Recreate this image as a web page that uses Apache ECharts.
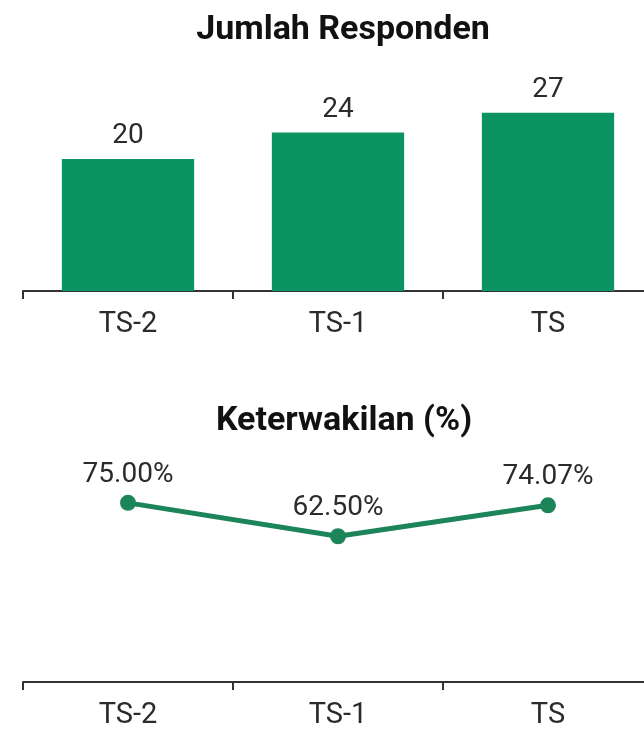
<!DOCTYPE html>
<html>
<head>
<meta charset="utf-8">
<script src="https://cdn.jsdelivr.net/npm/echarts@6/dist/echarts.min.js"></script>
<style>
  html, body { margin: 0; padding: 0; background: #fff; }
  #chart { width: 644px; height: 730px; }
</style>
</head>
<body>
<div id="chart"></div>
<script>
// data
const categories = ['TS-2', 'TS-1', 'TS']
const responden = [20, 24, 27]
const keterwakilan = [75.0, 62.5, 74.07]

const textColor = '#2b2b2b'
const fontFamily = 'Roboto, "Noto Sans", sans-serif'

const xAxisBase = {
  type: 'category',
  data: categories,
  axisLine: { lineStyle: { color: '#333', width: 2 } },
  axisTick: { show: true, length: 8, lineStyle: { color: '#333', width: 2 } },
  axisLabel: { color: textColor, fontSize: 29, fontFamily: fontFamily, margin: 19 }
}

const chart = echarts.init(document.getElementById('chart'))
const option = {
  backgroundColor: '#fff',
  animation: false,
  title: [
    {
      text: 'Jumlah Responden',
      left: 338, top: 8, textAlign: 'center',
      textStyle: { fontSize: 34, fontWeight: 'bold', color: '#111', fontFamily: fontFamily }
    },
    {
      text: 'Keterwakilan (%)',
      left: 339, top: 399, textAlign: 'center',
      textStyle: { fontSize: 34, fontWeight: 'bold', color: '#111', fontFamily: fontFamily }
    }
  ],
  grid: [
    { left: 23, width: 630, top: 93, height: 198, outerBoundsMode: 'none' },
    { left: 23, width: 630, top: 436, height: 246, outerBoundsMode: 'none' }
  ],
  xAxis: [
    Object.assign({ gridIndex: 0 }, xAxisBase),
    Object.assign({ gridIndex: 1 }, xAxisBase)
  ],
  yAxis: [
    { gridIndex: 0, type: 'value', min: 0, max: 30, show: false },
    { gridIndex: 1, type: 'value', min: 8, max: 100, show: false }
  ],
  series: [
    {
      name: 'Jumlah Responden',
      type: 'bar',
      xAxisIndex: 0,
      yAxisIndex: 0,
      data: responden,
      barWidth: '63%',
      itemStyle: { color: '#0b9461' },
      label: {
        show: true, position: 'top', distance: 9,
        color: textColor, fontSize: 28, fontFamily: fontFamily
      }
    },
    {
      name: 'Keterwakilan',
      type: 'line',
      xAxisIndex: 1,
      yAxisIndex: 1,
      data: keterwakilan,
      symbol: 'circle',
      symbolSize: 16,
      lineStyle: { color: '#1c8459', width: 5 },
      itemStyle: { color: '#1c8459' },
      label: {
        show: true, position: 'top', distance: 6,
        color: textColor, fontSize: 28, fontFamily: fontFamily,
        formatter: p => p.value.toFixed(2) + '%'
      }
    }
  ]
}
chart.setOption(option)
</script>
</body>
</html>
